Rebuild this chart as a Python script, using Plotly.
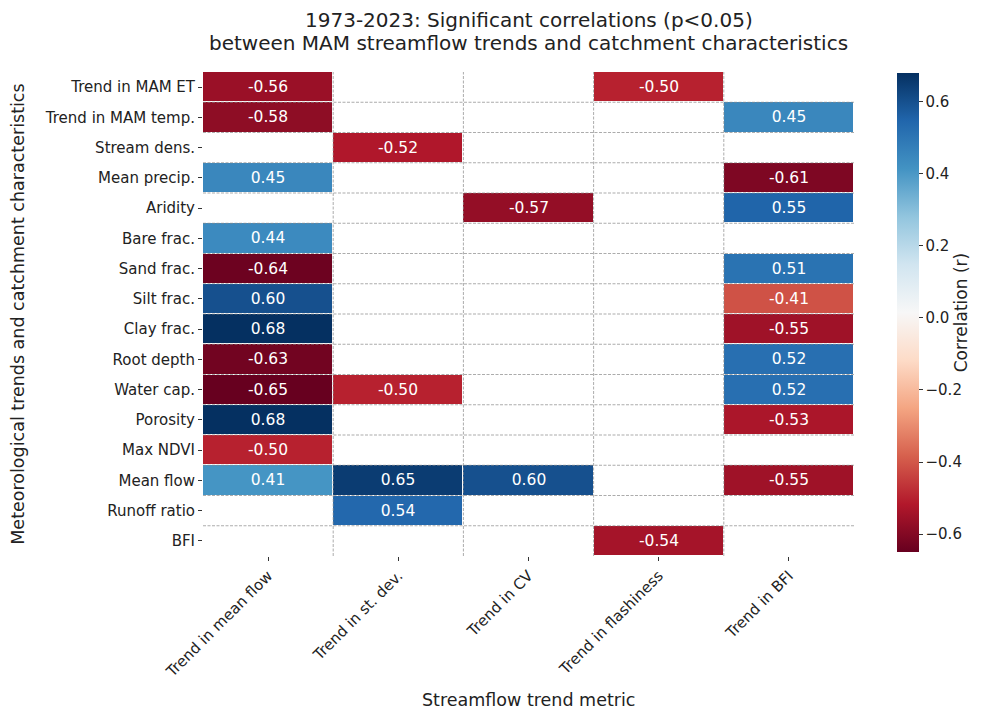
import plotly.graph_objects as go

# metrics on the x axis
metrics = ["Trend in mean flow", "Trend in st. dev.", "Trend in CV",
           "Trend in flashiness", "Trend in BFI"]

# catchment characteristics on the y axis (top to bottom)
characteristics = ["Trend in MAM ET", "Trend in MAM temp.", "Stream dens.",
                   "Mean precip.", "Aridity", "Bare frac.", "Sand frac.",
                   "Silt frac.", "Clay frac.", "Root depth", "Water cap.",
                   "Porosity", "Max NDVI", "Mean flow", "Runoff ratio", "BFI"]

# significant correlations only (None = not significant)
mean_flow = [-0.56, -0.58, None, 0.45, None, 0.44, -0.64, 0.60, 0.68, -0.63,
             -0.65, 0.68, -0.50, 0.41, None, None]
st_dev = [None, None, -0.52, None, None, None, None, None, None, None,
          -0.50, None, None, 0.65, 0.54, None]
cv = [None, None, None, None, -0.57, None, None, None, None, None,
      None, None, None, 0.60, None, None]
flashiness = [-0.50, None, None, None, None, None, None, None, None, None,
              None, None, None, None, None, -0.54]
bfi = [None, 0.45, None, -0.61, 0.55, None, 0.51, -0.41, -0.55, 0.52,
       0.52, -0.53, None, -0.55, None, None]

columns = [mean_flow, st_dev, cv, flashiness, bfi]
z = [[col[i] for col in columns] for i in range(len(characteristics))]
text = [["" if v is None else f"{v:.2f}" for v in row] for row in z]

# matplotlib RdBu
rdbu = ["#67001f", "#b2182b", "#d6604d", "#f4a582", "#fddbc7", "#f7f7f7",
        "#d1e5f0", "#92c5de", "#4393c3", "#2166ac", "#053061"]
colorscale = [[i / (len(rdbu) - 1), c] for i, c in enumerate(rdbu)]

font = "DejaVu Sans"
ink = "#222"

fig = go.Figure(go.Heatmap(
    z=z, x=metrics, y=characteristics,
    text=text, texttemplate="%{text}",
    textfont=dict(color="white", size=15.5, family=font),
    colorscale=colorscale, zmin=-0.65, zmax=0.68,
    xgap=1, ygap=1, hoverongaps=False,
    colorbar=dict(
        title=dict(text="Correlation (r)", side="right",
                   font=dict(size=17, family=font, color=ink)),
        x=1.066, xanchor="left", xref="paper", xpad=0, ypad=0,
        y=0.503, yanchor="middle", lenmode="pixels", len=479, thickness=22,
        outlinewidth=0, ticks="outside", ticklen=4, tickcolor="#333",
        tickvals=[-0.6, -0.4, -0.2, 0.0, 0.2, 0.4, 0.6],
        tickformat=".1f",
        tickfont=dict(size=15, family=font, color=ink),
    ),
))

# dashed separators between rows and columns
grid = dict(color="#888", width=0.7, dash="3px,1.5px")
for i in range(1, len(metrics)):
    fig.add_shape(type="line", xref="x", yref="paper", x0=i - 0.5, x1=i - 0.5,
                  y0=0, y1=1, layer="above", line=grid)
for j in range(1, len(characteristics)):
    fig.add_shape(type="line", xref="paper", yref="y", x0=0, x1=1,
                  y0=j - 0.5, y1=j - 0.5, layer="above", line=grid)

# title and axis titles
fig.add_annotation(text="1973-2023: Significant correlations (p<0.05)",
                   xref="paper", yref="paper", x=0.5, y=1.107,
                   yanchor="middle", showarrow=False,
                   font=dict(size=20, family=font, color=ink))
fig.add_annotation(text="between MAM streamflow trends and catchment characteristics",
                   xref="paper", yref="paper", x=0.5, y=1.06,
                   yanchor="middle", showarrow=False,
                   font=dict(size=20, family=font, color=ink))
fig.add_annotation(text="Streamflow trend metric",
                   xref="paper", yref="paper", x=0.5, y=-0.2975,
                   yanchor="middle", showarrow=False,
                   font=dict(size=17.5, family=font, color=ink))
fig.add_annotation(text="Meteorological trends and catchment characteristics",
                   xref="paper", yref="paper", x=-0.2846, y=0.5,
                   xanchor="center", yanchor="middle", textangle=-90,
                   showarrow=False,
                   font=dict(size=17.5, family=font, color=ink))

# margins allow for the 8px page offset of the plot div
fig.update_layout(
    width=985, height=711,
    margin=dict(l=195, r=139, t=64, b=163),
    paper_bgcolor="white", plot_bgcolor="white",
    font=dict(family=font, color=ink),
    xaxis=dict(
        tickangle=-45, ticks="outside", ticklen=4, tickcolor="#333",
        showgrid=False, zeroline=False, showline=False, automargin=False,
        tickfont=dict(size=15, family=font),
    ),
    yaxis=dict(
        autorange="reversed", ticks="outside", ticklen=4, tickcolor="#333",
        showgrid=False, zeroline=False, showline=False, automargin=False,
        tickfont=dict(size=15, family=font),
    ),
)

fig.write_html("out.html")
